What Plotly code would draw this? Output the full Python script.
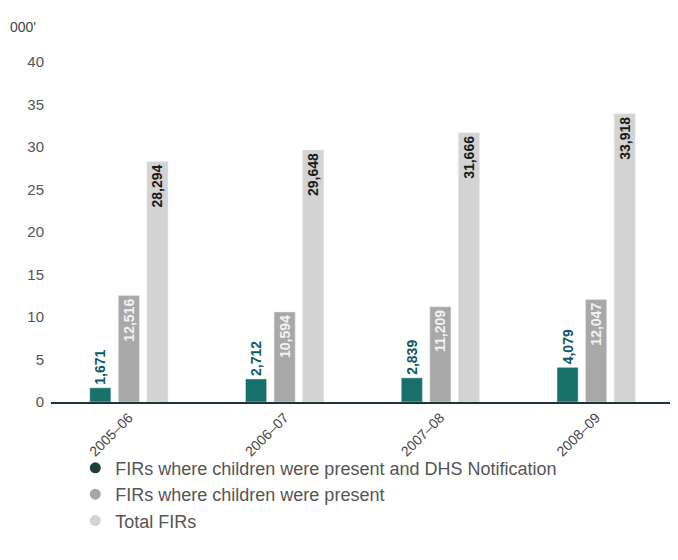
import plotly.graph_objects as go

years = ["2005–06", "2006–07", "2007–08", "2008–09"]
dhs_notified = [1671, 2712, 2839, 4079]
children_present = [12516, 10594, 11209, 12047]
total_firs = [28294, 29648, 31666, 33918]

series_names = [
    "FIRs where children were present and DHS Notification",
    "FIRs where children were present",
    "Total FIRs",
]
colors = ["#17706b", "#a8a8a8", "#d3d3d3"]
legend_colors = ["#1f3d3d", "#a8a8a8", "#d3d3d3"]

fig = go.Figure()

def k(vals):
    return [v / 1000 for v in vals]

fig.add_trace(go.Bar(
    x=years, y=k(dhs_notified), marker_color=colors[0], showlegend=False,
    text=[f"{v:,}" for v in dhs_notified], textposition="outside", textangle=-90,
    constraintext="none",
    textfont=dict(family="Liberation Sans", size=14, color="#0e5a66", weight="bold"),
    cliponaxis=False,
))
fig.add_trace(go.Bar(
    x=years, y=k(children_present), marker_color=colors[1], showlegend=False,
    text=[f"{v:,}" for v in children_present], textposition="inside", textangle=-90,
    insidetextanchor="end", constraintext="none",
    textfont=dict(family="Liberation Sans", size=14, color="#f2f2f2", weight="bold"),
))
fig.add_trace(go.Bar(
    x=years, y=k(total_firs), marker_color=colors[2], showlegend=False,
    text=[f"{v:,}" for v in total_firs], textposition="inside", textangle=-90,
    insidetextanchor="end", constraintext="none",
    textfont=dict(family="Liberation Sans", size=14, color="#1a1a1a", weight="bold"),
))

for i, name in enumerate(series_names):
    fig.add_trace(go.Scatter(
        x=[None], y=[None], mode="markers", name=name,
        marker=dict(symbol="circle", size=11, color=legend_colors[i]),
        legendgroup=f"g{i}", showlegend=True,
    ))

fig.update_layout(
    width=670, height=552,
    margin=dict(l=43, r=4, t=54, b=158),
    paper_bgcolor="white", plot_bgcolor="white",
    barmode="group", bargap=0.45, bargroupgap=0.26,
    font=dict(family="Liberation Sans", size=14, color="#444444"),
    legend=dict(
        x=0.039, y=-0.14, xanchor="left", yanchor="top",
        orientation="v", tracegroupgap=0, bgcolor="rgba(0,0,0,0)",
        font=dict(family="Liberation Sans", size=18, color="#555555"),
    ),
    annotations=[dict(
        text="000'", x=-0.069, xanchor="left", y=1.103, yanchor="middle",
        xref="paper", yref="paper", showarrow=False,
        font=dict(size=14, color="#444444"),
    )],
)

fig.update_yaxes(
    range=[0, 40], tickvals=[0, 5, 10, 15, 20, 25, 30, 35, 40],
    showgrid=False, zeroline=False, showline=False, ticks="",
    tickfont=dict(size=15, color="#555555"), ticklabelstandoff=6,
)
fig.update_xaxes(
    showline=True, linecolor="#1f3535", linewidth=2, ticks="",
    tickangle=-45, tickfont=dict(size=14, color="#444444"),
)

fig.write_html("out.html")
